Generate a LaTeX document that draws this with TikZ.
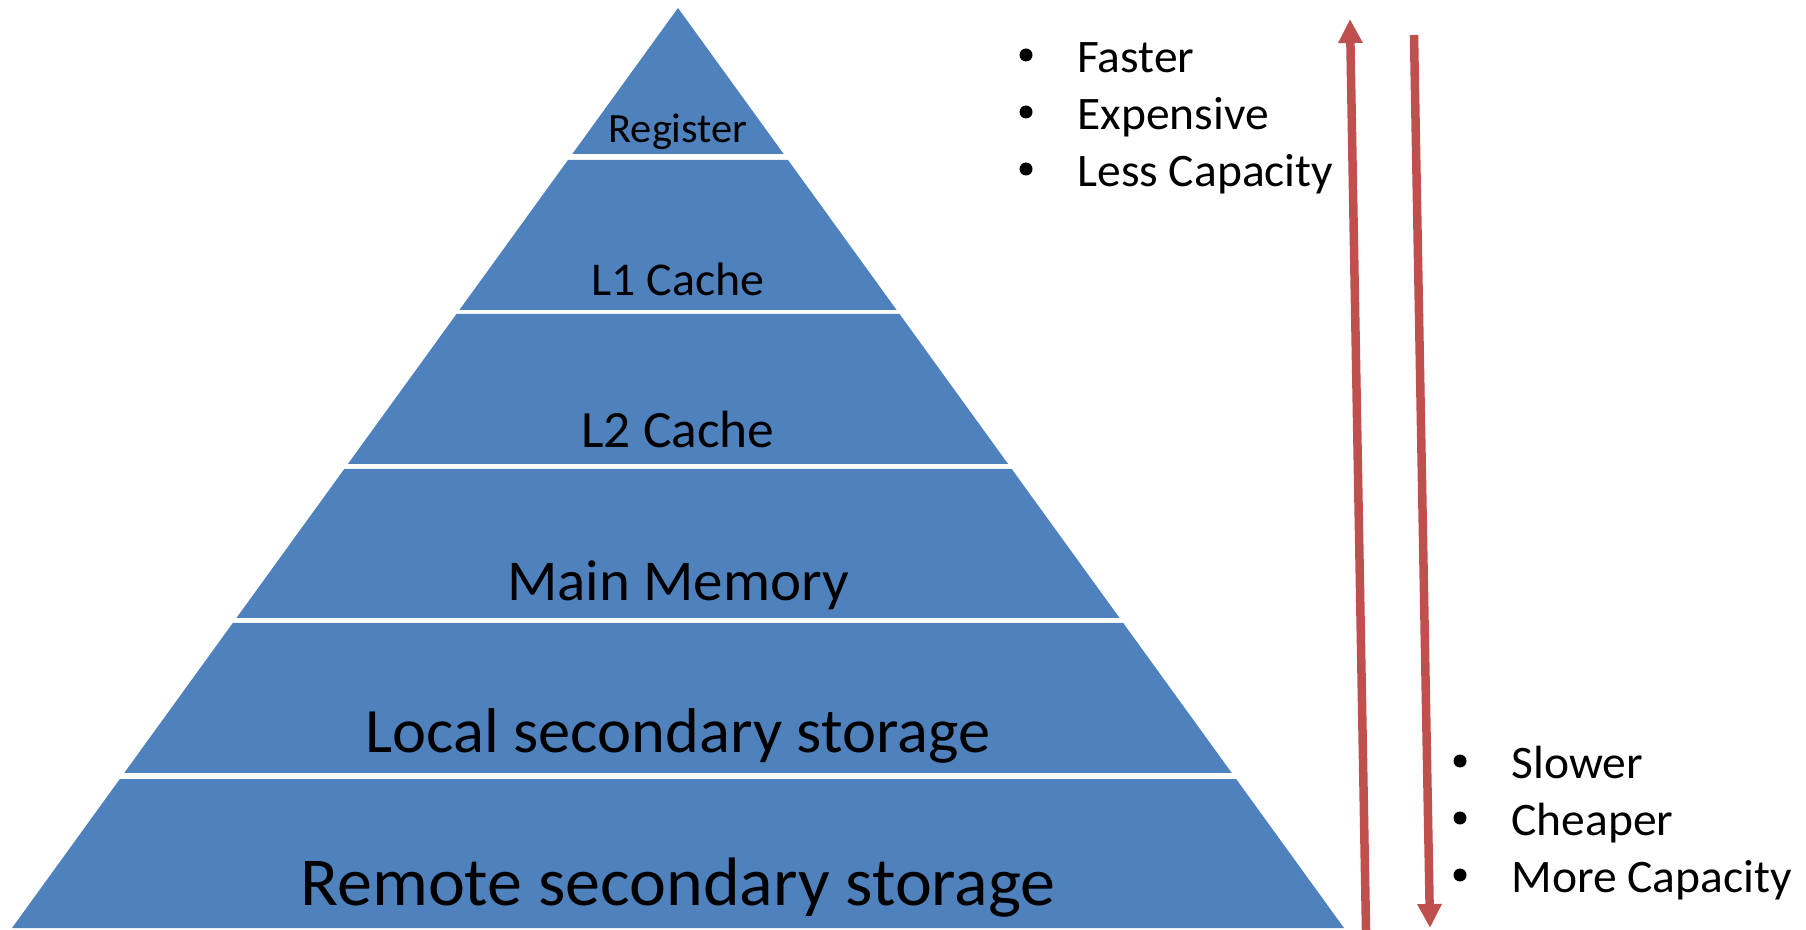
\documentclass[tikz,border=0pt]{standalone}
\usepackage{fontspec}
\setmainfont{Carlito}[FakeStretch=1.02]
\usetikzlibrary{calc,arrows.meta}
\definecolor{pyrblue}{HTML}{4F81BD}
\definecolor{arrred}{HTML}{C0504D}
\newcommand\mypband[2]{%
  \fill[pyrblue] ($(apex)!{(#1-8)/920}!(bl)$) -- ($(apex)!{(#2-8)/920}!(bl)$) --
    ($(apex)!{(#2-8)/920}!(br)$) -- ($(apex)!{(#1-8)/920}!(br)$) -- cycle;}
\begin{document}
\begin{tikzpicture}[x=0.5pt,y=-0.5pt,
  lbl/.style={anchor=base,inner sep=0pt,text=black},
  item/.style={anchor=base west,inner sep=0pt,font=\fontsize{23.3pt}{28pt}\selectfont},
  dotnode/.style={circle,fill=black,draw=none,inner sep=0pt,minimum size=6.5pt},
  bigarrow/.style={draw=arrred,line width=4.25pt,-{Triangle[length=12pt,width=11.5pt]}}]
\useasboundingbox (0,0) rectangle (1806,930);
\coordinate (apex) at (678,8);
\coordinate (bl) at (12,928);
\coordinate (br) at (1344,928);
\mypband{8}{154}
\mypband{160}{310}
\mypband{314}{464}
\mypband{469}{618}
\mypband{623}{773}
\mypband{779}{928}
\node[lbl,font=\fontsize{20.8pt}{24pt}\selectfont] (reg) at (678,143) {Register};
\node[lbl,font=\fontsize{23.5pt}{28pt}\selectfont] (l1) at (678,296) {L1 Cache};
\node[lbl,font=\fontsize{26.2pt}{31pt}\selectfont] (l2) at (678,448) {L2 Cache};
\node[lbl,font=\fontsize{28.9pt}{34pt}\selectfont] (mm) at (678,601) {Main Memory};
\node[lbl,font=\fontsize{31.6pt}{38pt}\selectfont] (lss) at (678,752) {Local secondary storage};
\node[lbl,font=\fontsize{34.3pt}{41pt}\selectfont] (rss) at (678,905) {Remote secondary storage};
% top list
\node[item] (fast) at (1077,73) {Faster};
\node[item] (exp) at (1077,130) {Expensive};
\node[item] (less) at (1077,187) {Less Capacity};
\node[dotnode] (b1) at (1026,55) {};
\node[dotnode] (b2) at (1026,112) {};
\node[dotnode] (b3) at (1026,169) {};
% bottom list
\node[item] (slow) at (1511,778) {Slower};
\node[item] (cheap) at (1511,835) {Cheaper};
\node[item] (more) at (1511,892) {More Capacity};
\node[dotnode] (b4) at (1460,761) {};
\node[dotnode] (b5) at (1460,818) {};
\node[dotnode] (b6) at (1460,875) {};
% arrows
\coordinate (upS) at (1366,930);
\coordinate (upE) at (1350,19);
\coordinate (dnS) at (1414,35);
\coordinate (dnE) at (1430,928);
\draw[bigarrow] (upS) -- (upE);
\draw[bigarrow] (dnS) -- (dnE);
\end{tikzpicture}
\end{document}
